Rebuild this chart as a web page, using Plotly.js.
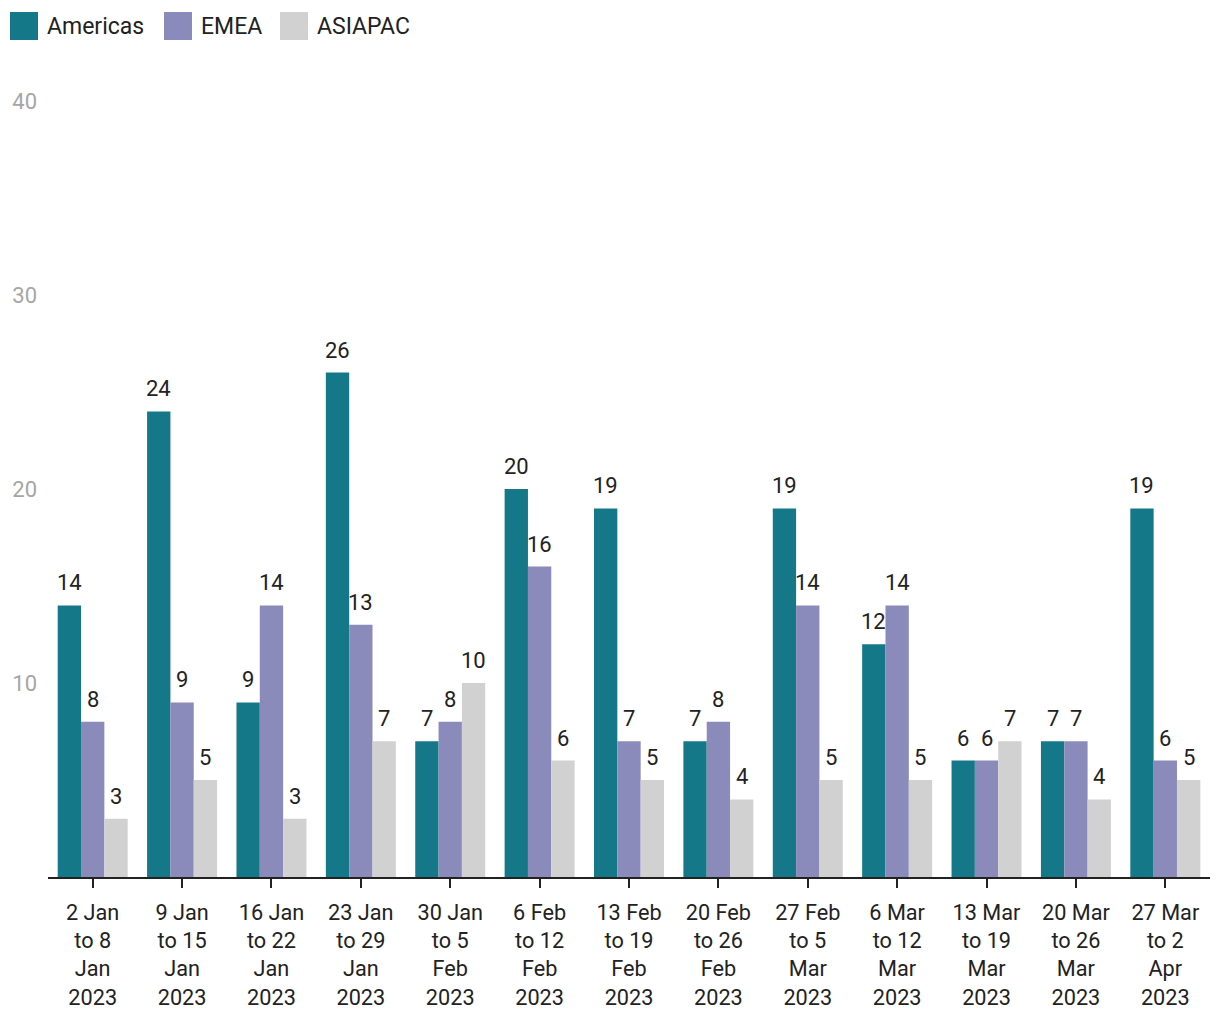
<!DOCTYPE html>
<html>
<head>
<meta charset="utf-8">
<script src="https://cdn.plot.ly/plotly-3.0.1.min.js"></script>
<style>
html,body{margin:0;padding:0;background:#fff;}
#chart{width:1220px;height:1020px;}
</style>
</head>
<body>
<div id="chart"></div>
<script>
const categories = [
  "2 Jan<br>to 8<br>Jan<br>2023",
  "9 Jan<br>to 15<br>Jan<br>2023",
  "16 Jan<br>to 22<br>Jan<br>2023",
  "23 Jan<br>to 29<br>Jan<br>2023",
  "30 Jan<br>to 5<br>Feb<br>2023",
  "6 Feb<br>to 12<br>Feb<br>2023",
  "13 Feb<br>to 19<br>Feb<br>2023",
  "20 Feb<br>to 26<br>Feb<br>2023",
  "27 Feb<br>to 5<br>Mar<br>2023",
  "6 Mar<br>to 12<br>Mar<br>2023",
  "13 Mar<br>to 19<br>Mar<br>2023",
  "20 Mar<br>to 26<br>Mar<br>2023",
  "27 Mar<br>to 2<br>Apr<br>2023"
];
const americas = [14, 24, 9, 26, 7, 20, 19, 7, 19, 12, 6, 7, 19];
const emea     = [8, 9, 14, 13, 8, 16, 7, 8, 14, 14, 6, 7, 6];
const asiapac  = [3, 5, 3, 7, 10, 6, 5, 4, 5, 5, 7, 4, 5];
const seriesNames = ["Americas", "EMEA", "ASIAPAC"];
const seriesColors = ["#147888", "#8a8bba", "#d1d1d1"];
const yTicks = [10, 20, 30, 40];

const FONT = "Roboto, 'Open Sans', sans-serif";
const series = [americas, emea, asiapac];
const bargap = 0.217;
const barW = (1 - bargap) / series.length;

const traces = series.map((vals, k) => ({
  type: "bar",
  name: seriesNames[k],
  x: categories,
  y: vals,
  marker: {color: seriesColors[k], line: {width: 0}},
  hoverinfo: "skip",
  showlegend: false
}));

// value labels above bars
const annotations = [];
series.forEach((vals, k) => {
  vals.forEach((v, i) => {
    annotations.push({
      x: i + (k - (series.length - 1) / 2) * barW,
      y: v,
      xref: "x", yref: "y",
      text: String(v),
      showarrow: false,
      xanchor: "center", yanchor: "bottom",
      yshift: 8,
      font: {family: FONT, size: 22, color: "#222222"}
    });
  });
});

// custom legend (large squares)
const L = 48, R = 1210, T = 101, B = 877;
const px2x = p => (p - L) / (R - L);
const py2y = p => (B - p) / (B - T);
const legendX = [10, 164, 280];
const shapes = [];
seriesNames.forEach((n, k) => {
  const x0 = legendX[k];
  shapes.push({
    type: "rect", xref: "paper", yref: "paper",
    x0: px2x(x0), x1: px2x(x0 + 28), y0: py2y(40), y1: py2y(12),
    fillcolor: seriesColors[k], line: {width: 0}
  });
  annotations.push({
    xref: "paper", yref: "paper",
    x: px2x(x0 + 35), y: py2y(27),
    xanchor: "left", yanchor: "middle",
    text: n, showarrow: false,
    font: {family: FONT, size: 23, color: "#222222"}
  });
});

const layout = {
  width: 1220, height: 1020,
  margin: {l: L, r: 1220 - R, t: T, b: 1020 - B, pad: 0},
  paper_bgcolor: "#ffffff",
  plot_bgcolor: "#ffffff",
  barmode: "group",
  bargap: bargap,
  bargroupgap: 0,
  showlegend: false,
  font: {family: FONT, size: 22, color: "#222222"},
  xaxis: {
    type: "category",
    showline: true, linecolor: "#222222", linewidth: 2,
    ticks: "outside", ticklen: 9, tickwidth: 2, tickcolor: "#222222",
    ticklabelstandoff: 6,
    showgrid: false, zeroline: false,
    tickfont: {family: FONT, size: 21.7, color: "#222222"},
    tickangle: 0,
    automargin: false
  },
  yaxis: {
    range: [0, 40],
    tickvals: yTicks,
    ticktext: yTicks.map(String),
    showgrid: false, zeroline: false, showline: false,
    ticks: "", ticklabelstandoff: 10,
    tickfont: {family: FONT, size: 22, color: "#a6a6a6"},
    automargin: false
  },
  annotations: annotations,
  shapes: shapes
};

Plotly.newPlot("chart", traces, layout, {displayModeBar: false, staticPlot: true});
</script>
</body>
</html>
